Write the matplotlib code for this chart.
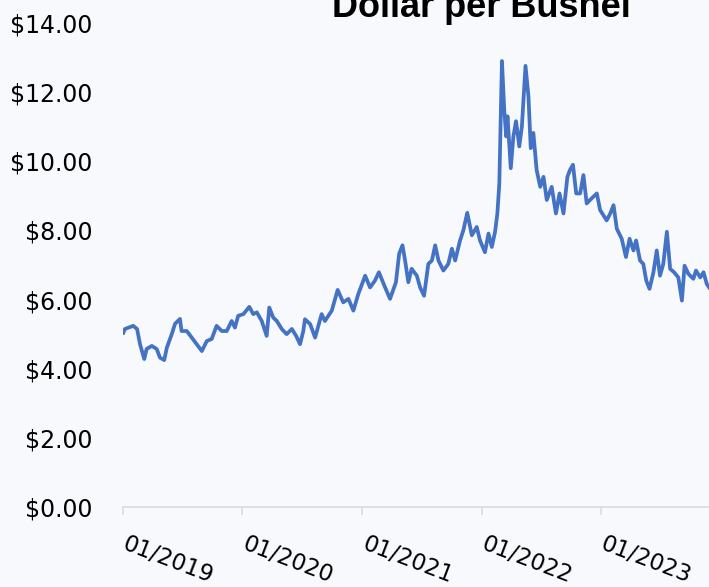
import matplotlib
matplotlib.use("Agg")
import matplotlib.pyplot as plt
import matplotlib.dates as mdates
import matplotlib.transforms as mtransforms
import pandas as pd
from matplotlib.ticker import FuncFormatter

dates = [
    "2019-01-02", "2019-01-07", "2019-02-01", "2019-02-13", "2019-02-22", "2019-03-07",
    "2019-03-14", "2019-03-30", "2019-04-14", "2019-04-24", "2019-05-07", "2019-05-15",
    "2019-05-30", "2019-06-09", "2019-06-24", "2019-06-29", "2019-07-15", "2019-07-30",
    "2019-08-14", "2019-08-30", "2019-09-14", "2019-09-29", "2019-10-14", "2019-10-30",
    "2019-11-14", "2019-11-29", "2019-12-09", "2019-12-19", "2020-01-04", "2020-01-22",
    "2020-02-03", "2020-02-14", "2020-02-29", "2020-03-15", "2020-03-23", "2020-04-04",
    "2020-04-15", "2020-04-30", "2020-05-15", "2020-05-31", "2020-06-13", "2020-06-25",
    "2020-07-05", "2020-07-10", "2020-07-26", "2020-08-10", "2020-08-30", "2020-09-09",
    "2020-09-30", "2020-10-18", "2020-11-04", "2020-11-20", "2020-12-05", "2020-12-20",
    "2021-01-10", "2021-01-25", "2021-02-09", "2021-02-21", "2021-03-12", "2021-03-27",
    "2021-04-14", "2021-04-24", "2021-05-04", "2021-05-12", "2021-05-22", "2021-06-01",
    "2021-06-17", "2021-06-27", "2021-07-09", "2021-07-22", "2021-08-02", "2021-08-12",
    "2021-08-22", "2021-09-06", "2021-09-21", "2021-10-02", "2021-10-12", "2021-10-27",
    "2021-11-06", "2021-11-18", "2021-12-02", "2021-12-17", "2021-12-27", "2022-01-11",
    "2022-01-22", "2022-02-01", "2022-02-11", "2022-02-18", "2022-02-24", "2022-03-04",
    "2022-03-11", "2022-03-17", "2022-03-21", "2022-03-31", "2022-04-08", "2022-04-16",
    "2022-04-26", "2022-05-04", "2022-05-15", "2022-05-24", "2022-05-31", "2022-06-08",
    "2022-06-18", "2022-06-29", "2022-07-09", "2022-07-19", "2022-08-03", "2022-08-16",
    "2022-08-27", "2022-09-08", "2022-09-20", "2022-09-28", "2022-10-07", "2022-10-17",
    "2022-10-29", "2022-11-08", "2022-11-18", "2022-11-28", "2022-12-19", "2022-12-29",
    "2023-01-18", "2023-01-29", "2023-02-08", "2023-02-18", "2023-03-05", "2023-03-18",
    "2023-03-29", "2023-04-10", "2023-04-18", "2023-04-30", "2023-05-10", "2023-05-19",
    "2023-05-29", "2023-06-10", "2023-06-20", "2023-06-30", "2023-07-10", "2023-07-21",
    "2023-07-31", "2023-08-12", "2023-08-25", "2023-09-05", "2023-09-13", "2023-09-25",
    "2023-10-10", "2023-10-18", "2023-10-31", "2023-11-10", "2023-11-20", "2023-11-27",
]
price = [
    5.04, 5.15, 5.24, 5.15, 4.71, 4.28,
    4.57, 4.66, 4.57, 4.32, 4.25, 4.61,
    5.00, 5.30, 5.44, 5.09, 5.09, 4.90,
    4.71, 4.51, 4.80, 4.86, 5.24, 5.09,
    5.09, 5.38, 5.19, 5.53, 5.58, 5.79,
    5.58, 5.63, 5.38, 4.95, 5.77, 5.48,
    5.38, 5.15, 5.00, 5.15, 4.95, 4.71,
    5.09, 5.43, 5.29, 4.90, 5.58, 5.38,
    5.68, 6.28, 5.92, 6.02, 5.68, 6.16,
    6.69, 6.35, 6.55, 6.79, 6.35, 6.02,
    6.50, 7.33, 7.57, 7.13, 6.50, 6.89,
    6.69, 6.35, 6.11, 7.03, 7.13, 7.57,
    7.13, 6.84, 7.03, 7.47, 7.13, 7.71,
    8.00, 8.51, 7.86, 8.10, 7.71, 7.37,
    7.91, 7.52, 7.96, 8.49, 9.36, 12.90,
    11.50, 10.72, 11.30, 9.80, 10.72, 11.16,
    10.43, 11.01, 12.76, 11.88, 10.38, 10.82,
    9.75, 9.26, 9.55, 8.88, 9.26, 8.49,
    9.07, 8.49, 9.55, 9.75, 9.90, 9.07,
    9.07, 9.60, 8.78, 8.88, 9.07, 8.59,
    8.29, 8.49, 8.73, 8.05, 7.76, 7.23,
    7.76, 7.42, 7.71, 7.13, 7.03, 6.55,
    6.31, 6.79, 7.42, 6.69, 7.03, 7.96,
    6.89, 6.79, 6.64, 5.97, 6.98, 6.74,
    6.60, 6.84, 6.64, 6.79, 6.45, 6.35,
]
x_ticks = ["2019-01-01", "2020-01-01", "2021-01-01", "2022-01-01", "2023-01-01", "2024-01-01"]
y_ticks = [0, 2, 4, 6, 8, 10, 12, 14]
title = "Dollar per Bushel"

plt.rcParams["font.family"] = ["DejaVu Sans"]

W, H = 709, 587
fig = plt.figure(figsize=(W / 100, H / 100), dpi=100, facecolor="#f8f9fc")
left, right = 123, 839
bottom, top = 507, 23
ax = fig.add_axes([left / W, (H - bottom) / H, (right - left) / W, (bottom - top) / H])
ax.set_facecolor("none")

d = pd.to_datetime(dates)
ax.plot(d, price, color="#4472C4", linewidth=2.7, solid_joinstyle="round")

ax.set_xlim(pd.Timestamp("2019-01-01"), pd.Timestamp("2024-12-28"))
ax.set_ylim(0, 14)
ax.set_yticks(y_ticks)
ax.yaxis.set_major_formatter(FuncFormatter(lambda v, p: f"${v:,.2f}"))
ax.set_xticks(pd.to_datetime(x_ticks))
ax.xaxis.set_major_formatter(mdates.DateFormatter("%m/%Y"))

for s in ["top", "right", "left"]:
    ax.spines[s].set_visible(False)
ax.spines["bottom"].set_color("#dcdcdc")
ax.spines["bottom"].set_linewidth(1.2)

ax.tick_params(axis="y", length=0, pad=22, labelsize=17, labelcolor="black")
ax.tick_params(axis="x", length=6, width=1.2, color="#dcdcdc", pad=12,
               labelsize=16.5, labelcolor="black")
shift = mtransforms.ScaledTranslation(5 / 100, 0, fig.dpi_scale_trans)
for lbl in ax.get_xticklabels():
    lbl.set_rotation(-21)
    lbl.set_ha("left")
    lbl.set_va("top")
    lbl.set_rotation_mode("anchor")
    lbl.set_transform(lbl.get_transform() + shift)

# title centred on the full (cropped) axes width
fig.text(((left + right) / 2) / W, (H - 17) / H, title, ha="center", va="baseline",
         fontsize=26, fontweight="bold", family=["Liberation Sans", "DejaVu Sans"],
         color="black")

fig.savefig("out.png", dpi=100, facecolor=fig.get_facecolor())
